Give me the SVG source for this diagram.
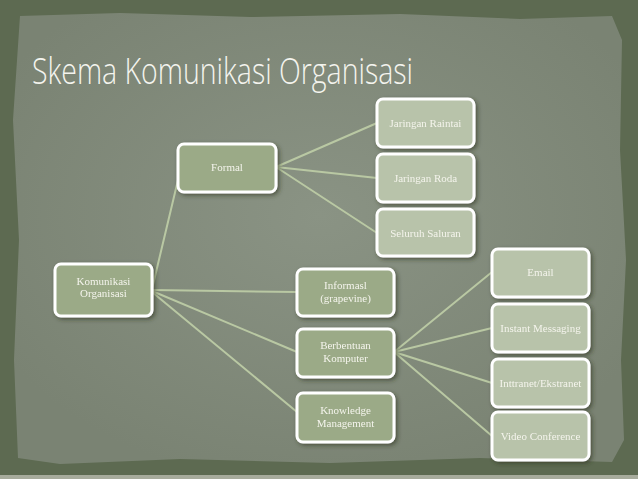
<svg xmlns="http://www.w3.org/2000/svg" width="638" height="479" viewBox="0 0 638 479">
<defs>
<filter id="sh" x="-20%" y="-20%" width="150%" height="150%">
<feDropShadow dx="2" dy="2" stdDeviation="2" flood-color="#2a3024" flood-opacity="0.6"/>
</filter>
<radialGradient id="paper" cx="50%" cy="45%" r="60%">
<stop offset="0" stop-color="#8a9384"/>
<stop offset="1" stop-color="#7a8373"/>
</radialGradient>
</defs>
<style>
.dk{fill:#9baa87;stroke:#ffffff;stroke-width:3}
.lt{fill:#b8c3aa;stroke:#ffffff;stroke-width:3}
.t{font-family:"Liberation Serif",serif;font-size:11px;fill:#f4f4ec;text-anchor:middle}
.c line{stroke:#b9c8a3;stroke-width:2;stroke-linecap:round}
</style>
<rect x="0" y="0" width="638" height="479" fill="#5d6a51"/>
<path d="M20,16 L120,13 L250,17 L400,14 L520,19 L612,16 L622,40 L620,150 L626,260 L621,360 L624,440 L612,462 L480,458 L330,463 L180,459 L60,464 L18,458 L14,360 L19,240 L13,120 Z" fill="url(#paper)"/>
<rect x="0" y="475" width="638" height="4" fill="#a7ab9c"/>
<text x="32" y="84" font-family="Open Sans, Liberation Sans, sans-serif" font-weight="300" font-size="36" fill="#f4f4ee" textLength="381" lengthAdjust="spacingAndGlyphs">Skema Komunikasi Organisasi</text>
<g class="c" id="connectors">
<line x1="152" y1="289" x2="178" y2="180"/>
<line x1="152" y1="290" x2="297" y2="292"/>
<line x1="152" y1="291" x2="297" y2="352"/>
<line x1="152" y1="292" x2="297" y2="412"/>
<line x1="276" y1="167" x2="377" y2="123"/>
<line x1="276" y1="167" x2="377" y2="178"/>
<line x1="276" y1="167" x2="377" y2="233"/>
<line x1="394" y1="352" x2="492" y2="272"/>
<line x1="394" y1="352" x2="492" y2="328"/>
<line x1="394" y1="352" x2="492" y2="383"/>
<line x1="394" y1="352" x2="492" y2="436"/>
</g>
<g id="n-komunikasi" filter="url(#sh)"><rect class="dk" x="55" y="264" width="97" height="52" rx="6"/><text class="t" x="103.5" y="285">Komunikasi</text><text class="t" x="103.5" y="297">Organisasi</text></g>
<g id="n-formal" filter="url(#sh)"><rect class="dk" x="178" y="144" width="98" height="48" rx="6"/><text class="t" x="227" y="171">Formal</text></g>
<g id="n-raintai" filter="url(#sh)"><rect class="lt" x="377" y="99" width="97" height="48" rx="6"/><text class="t" x="425.5" y="127">Jaringan Raintai</text></g>
<g id="n-roda" filter="url(#sh)"><rect class="lt" x="377" y="154" width="97" height="48" rx="6"/><text class="t" x="425.5" y="182">Jaringan Roda</text></g>
<g id="n-saluran" filter="url(#sh)"><rect class="lt" x="377" y="209" width="97" height="47" rx="6"/><text class="t" x="425.5" y="237">Seluruh Saluran</text></g>
<g id="n-informasl" filter="url(#sh)"><rect class="dk" x="297" y="269" width="97" height="47" rx="6"/><text class="t" x="345.5" y="289">Informasl</text><text class="t" x="345.5" y="302">(grapevine)</text></g>
<g id="n-berbentuan" filter="url(#sh)"><rect class="dk" x="297" y="329" width="97" height="48" rx="6"/><text class="t" x="345.5" y="349">Berbentuan</text><text class="t" x="345.5" y="362">Komputer</text></g>
<g id="n-knowledge" filter="url(#sh)"><rect class="dk" x="297" y="393" width="97" height="49" rx="6"/><text class="t" x="345.5" y="414">Knowledge</text><text class="t" x="345.5" y="427">Management</text></g>
<g id="n-email" filter="url(#sh)"><rect class="lt" x="492" y="249" width="97" height="48" rx="6"/><text class="t" x="540.5" y="276">Email</text></g>
<g id="n-im" filter="url(#sh)"><rect class="lt" x="492" y="304" width="97" height="48" rx="6"/><text class="t" x="540.5" y="332">Instant Messaging</text></g>
<g id="n-intranet" filter="url(#sh)"><rect class="lt" x="492" y="359" width="97" height="48" rx="6"/><text class="t" x="540.5" y="387">Inttranet/Ekstranet</text></g>
<g id="n-video" filter="url(#sh)"><rect class="lt" x="492" y="412" width="97" height="48" rx="6"/><text class="t" x="540.5" y="440">Video Conference</text></g>
</svg>
